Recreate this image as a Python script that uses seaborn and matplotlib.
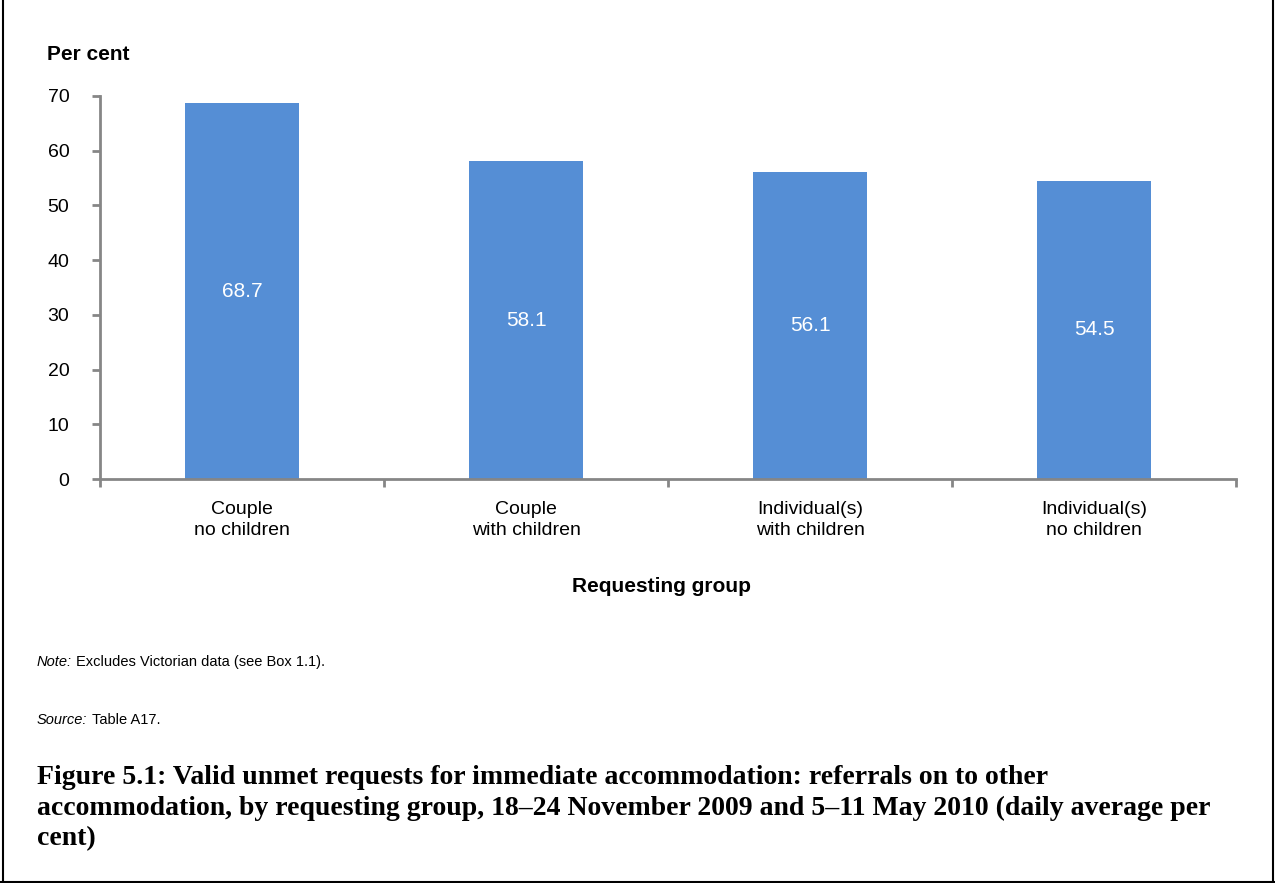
import matplotlib
matplotlib.use("Agg")
import matplotlib.pyplot as plt
import seaborn as sns
import pandas as pd
from matplotlib.lines import Line2D

categories = ["Couple\nno children", "Couple\nwith children",
              "Individual(s)\nwith children", "Individual(s)\nno children"]
values = [68.7, 58.1, 56.1, 54.5]
yticks = [0, 10, 20, 30, 40, 50, 60, 70]

sns.set_theme(style="white")
plt.rcParams['font.family'] = ['Liberation Sans', 'DejaVu Sans']
plt.rcParams['text.color'] = 'black'
plt.rcParams['xtick.color'] = 'black'
plt.rcParams['ytick.color'] = 'black'

df = pd.DataFrame({"group": categories, "value": values})

W, H = 1275, 883
fig = plt.figure(figsize=(W / 100, H / 100), dpi=100)
ax = fig.add_axes([100 / W, 1 - 479 / H, (1236 - 100) / W, (479 - 96) / H])

sns.barplot(data=df, x="group", y="value", color="#558ED5", saturation=1,
            width=0.4, ax=ax, edgecolor="none")

ax.set_ylim(0, 70)
ax.set_xlim(-0.5, len(categories) - 0.5)
ax.set_yticks(yticks)
ax.set_yticklabels([str(t) for t in yticks], fontsize=14)

ax.set_xticks(range(len(categories)))
ax.set_xticklabels(categories, fontsize=14, linespacing=1.3)
ax.tick_params(axis="x", length=0, pad=16, labelcolor="black")
ax.set_xticks([i - 0.5 for i in range(len(categories) + 1)], minor=True)
ax.tick_params(axis="x", which="minor", length=6, width=2, color="#868686",
               direction="out", bottom=True)
ax.tick_params(axis="y", length=6, width=2, color="#868686", direction="out",
               left=True, pad=16, labelcolor="black")

for s in ["top", "right"]:
    ax.spines[s].set_visible(False)
for s in ["left", "bottom"]:
    ax.spines[s].set_color("#868686")
    ax.spines[s].set_linewidth(2)

ax.set_xlabel("")
ax.set_ylabel("")

for i, v in enumerate(values):
    ax.text(i, v / 2, f"{v:.1f}", ha="center", va="center", color="white",
            fontsize=15)

fig.text(47 / W, 1 - 55 / H, "Per cent", fontsize=15, fontweight="bold",
         ha="left", va="center")
fig.text(661 / W, 1 - 587 / H, "Requesting group", fontsize=15,
         fontweight="bold", ha="center", va="center")

LX = 37
renderer = fig.canvas.get_renderer()


def label_pair(y, italic_part, rest, size=10.5):
    t = fig.text(LX / W, 1 - y / H, italic_part, fontsize=size, ha="left",
                 va="center", style="italic")
    bb = t.get_window_extent(renderer=renderer)
    fig.text((bb.x1 + 4) / W, 1 - y / H, rest, fontsize=size, ha="left",
             va="center")


label_pair(662, "Note:", "Excludes Victorian data (see Box 1.1).")
label_pair(720, "Source:", "Table A17.")

title = ("Figure 5.1: Valid unmet requests for immediate accommodation: referrals on to other\n"
         "accommodation, by requesting group, 18\u201324 November 2009 and 5\u201311 May 2010 (daily average per\n"
         "cent)")
fig.text(LX / W, 1 - 765 / H, title, fontsize=20, fontweight="bold",
         family=["Liberation Serif", "DejaVu Serif"], ha="left", va="top",
         linespacing=1.28)

# figure border (left, right, bottom)
fig.add_artist(Line2D([2.5 / W, 2.5 / W], [0, 1], transform=fig.transFigure,
                      color="black", lw=1.5))
fig.add_artist(Line2D([1 - 2.5 / W, 1 - 2.5 / W], [0, 1],
                      transform=fig.transFigure, color="black", lw=1.5))
fig.add_artist(Line2D([0, 1], [1.5 / H, 1.5 / H], transform=fig.transFigure,
                      color="black", lw=1.5))

fig.savefig("out.png", dpi=100)
